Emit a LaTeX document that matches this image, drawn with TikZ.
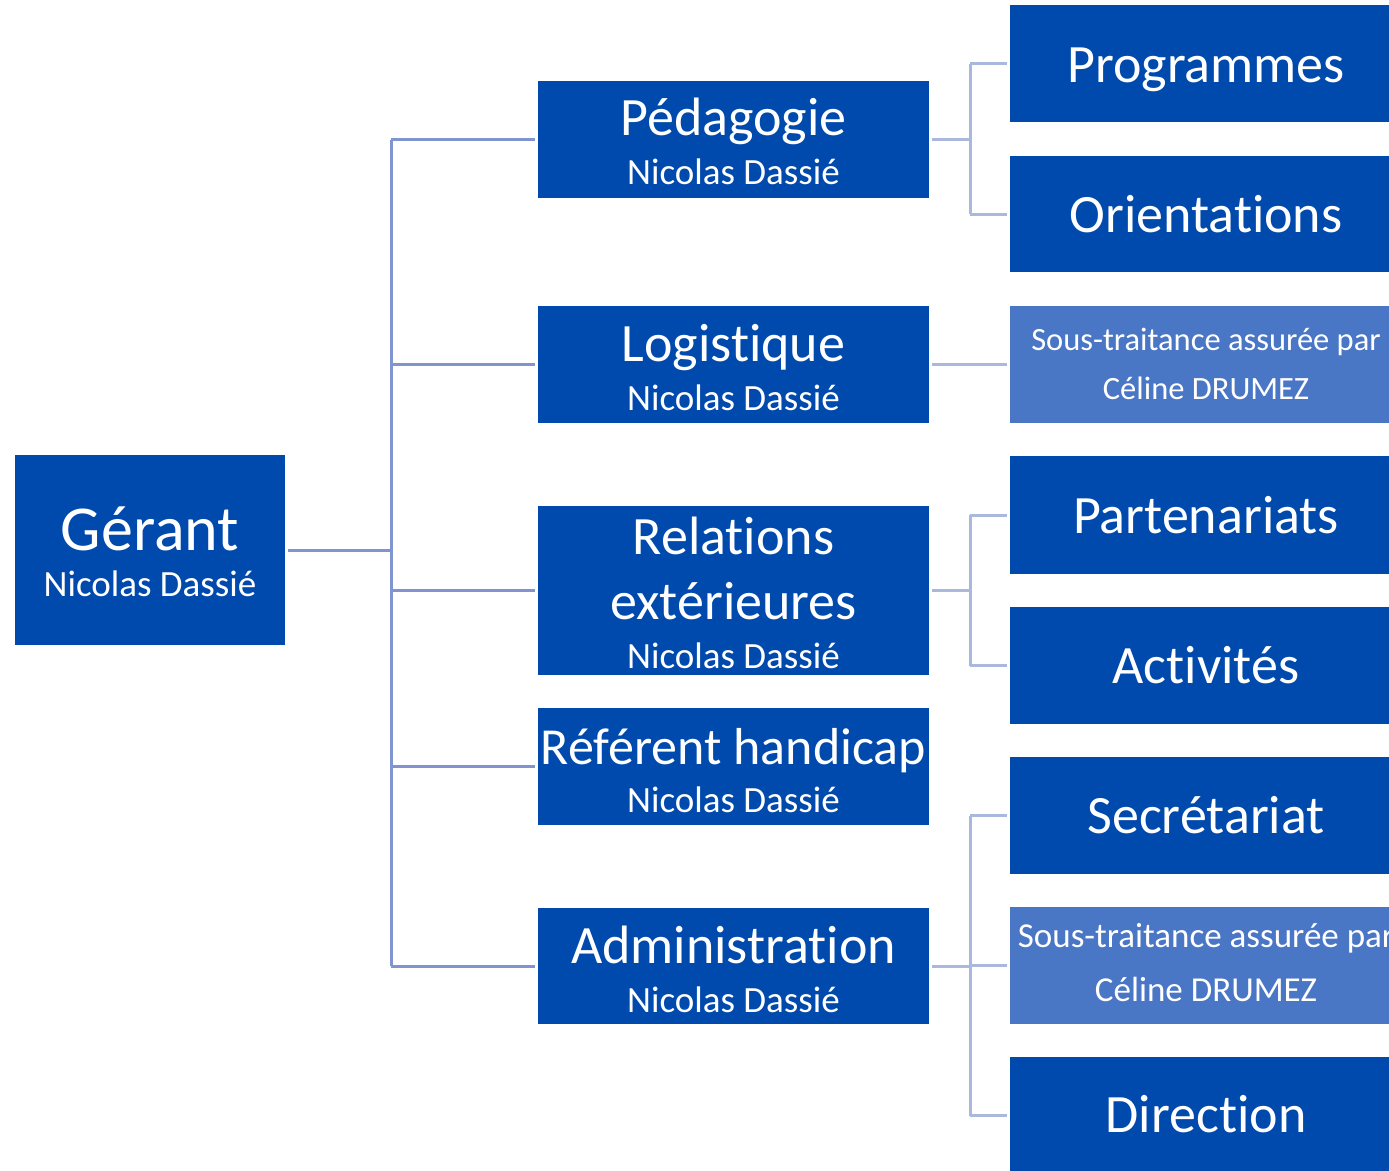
\documentclass[tikz,border=0pt]{standalone}
\usepackage{fontspec}
\setmainfont[RawFeature={-liga;-clig;-dlig;-calt;-rlig}]{Carlito}
\newcommand{\nl}{\kern0pt }
\definecolor{dblue}{RGB}{0,74,173}
\definecolor{lblue}{RGB}{74,118,198}
\definecolor{connA}{RGB}{128,148,208}
\definecolor{connB}{RGB}{170,184,222}
\tikzset{
  box/.style={fill=dblue, draw=none, inner sep=0pt, outer sep=3pt, anchor=center},
  lbox/.style={fill=lblue, draw=none, inner sep=0pt, outer sep=3pt, anchor=center},
  lvlone/.style={box, minimum width=270pt, minimum height=190pt},
  lvltwo/.style={box, minimum width=391pt, minimum height=117pt},
  lvlthree/.style={box, minimum width=400pt, minimum height=117pt},
  lvlthreel/.style={lbox, minimum width=400pt, minimum height=117pt},
  txt/.style={text=white, anchor=base, inner sep=0pt},
  bigt/.style={txt, font=\fontsize{64}{70}\selectfont},
  titlet/.style={txt, font=\fontsize{54}{60}\selectfont},
  namet/.style={txt, font=\fontsize{37}{42}\selectfont},
  subt/.style={txt, font=\fontsize{32.5}{38}\selectfont},
  subtb/.style={txt, font=\fontsize{35}{40}\selectfont},
  conA/.style={draw=connA, line width=3pt},
  conB/.style={draw=connB, line width=3pt},
}
\begin{document}
\begin{tikzpicture}[x=1pt,y=-1pt]
\clip (0,0) rectangle (1389,1170);
\fill[white] (0,0) rectangle (1389,1170);
% level 1
\node[lvlone] (ger) at (150,550) {};
% level 2
\node[lvltwo] (ped) at (733.5,139.5) {};
\node[lvltwo] (log) at (733.5,364.5) {};
\node[lvltwo, minimum height=169pt] (rel) at (733.5,590.5) {};
\node[lvltwo] (ref) at (733.5,766.5) {};
\node[lvltwo, minimum height=116pt] (adm) at (733.5,966) {};
% level 3
\node[lvlthree] (prog) at (1210,63.5) {};
\node[lvlthree, minimum height=116pt] (orie) at (1210,214) {};
\node[lvlthreel] (stone) at (1210,364.5) {};
\node[lvlthree, minimum height=118pt] (part) at (1210,515) {};
\node[lvlthree] (act) at (1210,665.5) {};
\node[lvlthree] (sec) at (1210,815.5) {};
\node[lvlthreel] (sttwo) at (1210,965.5) {};
\node[lvlthree] (dir) at (1210,1115.5) {};
% texts
\node[bigt] (gerA) at (150,550) {Gérant};
\node[namet] (gerB) at (150,596) {Nicolas Dassié};
\node[titlet] (pedA) at (733.5,135) {Pédagogie};
\node[namet] (pedB) at (733.5,184) {Nicolas Dassié};
\node[titlet] (logA) at (733.5,361) {Logist\nl ique};
\node[namet] (logB) at (733.5,410) {Nicolas Dassié};
\node[titlet] (relA) at (733.5,554) {Relations};
\node[titlet] (relB) at (733.5,619) {extérieures};
\node[namet] (relC) at (733.5,668) {Nicolas Dassié};
\node[titlet, font=\fontsize{52}{58}\selectfont] (refA) at (733.5,764) {Référent handicap};
\node[namet] (refB) at (733.5,812) {Nicolas Dassié};
\node[titlet] (admA) at (733.5,963) {Administrat\nl ion};
\node[namet] (admB) at (733.5,1012) {Nicolas Dassié};
\node[titlet] (progA) at (1206,82) {Programmes};
\node[titlet] (orieA) at (1206,232) {Orientat\nl ions};
\node[subt] (stoneA) at (1206,350) {Sous-traitance assurée par};
\node[subt] (stoneB) at (1206,399) {Céline DRUMEZ};
\node[titlet] (partA) at (1206,533) {Partenariat\nl s};
\node[titlet] (actA) at (1206,683) {Activités};
\node[titlet] (secA) at (1206,833) {Secrétariat};
\node[subtb] (sttwoA) at (1206,947) {Sous-traitance assurée par};
\node[subtb] (sttwoB) at (1206,1001) {Céline DRUMEZ};
\node[titlet] (dirA) at (1206,1132) {Direction};
% connectors left
\coordinate (trunk) at (391,550);
\coordinate (rt) at (970,550);
\draw[conA] (ger.east) -- (ger.east -| trunk);
\draw[conA] (ped.west -| trunk) -- (adm.west -| trunk);
\foreach \n in {ped,log,rel,ref,adm}{
  \draw[conA] (\n.west -| trunk) -- (\n.west);
}
% connectors right
\draw[conB] (ped.east) -- (ped.east -| rt);
\draw[conB] (prog.west -| rt) -- (orie.west -| rt);
\draw[conB] (prog.west -| rt) -- (prog.west);
\draw[conB] (orie.west -| rt) -- (orie.west);
\draw[conB] (log.east) -- (stone.west);
\draw[conB] (rel.east) -- (rel.east -| rt);
\draw[conB] (part.west -| rt) -- (act.west -| rt);
\draw[conB] (part.west -| rt) -- (part.west);
\draw[conB] (act.west -| rt) -- (act.west);
\draw[conB] (adm.east) -- (adm.east -| rt);
\draw[conB] (sec.west -| rt) -- (dir.west -| rt);
\draw[conB] (sec.west -| rt) -- (sec.west);
\draw[conB] (sttwo.west -| rt) -- (sttwo.west);
\draw[conB] (dir.west -| rt) -- (dir.west);
\end{tikzpicture}
\end{document}
